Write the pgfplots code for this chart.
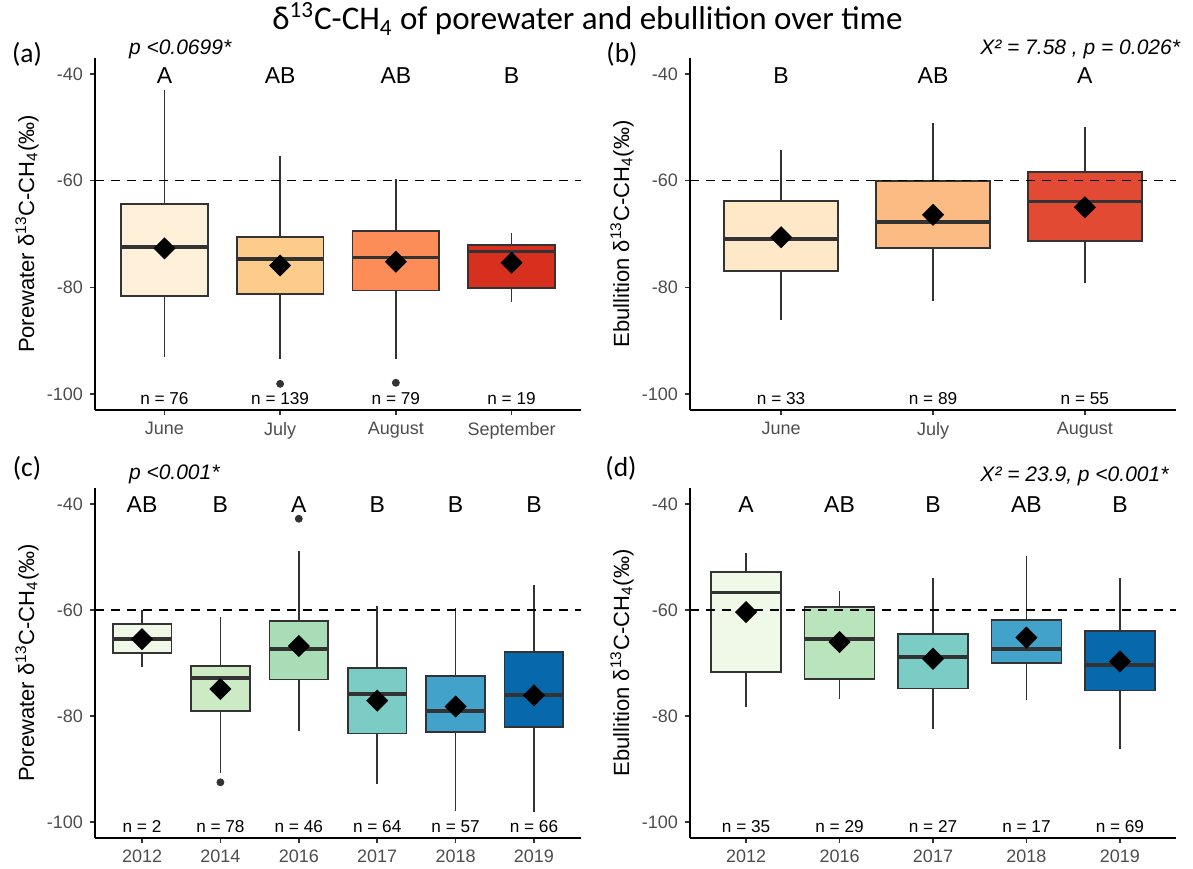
\documentclass[border=0pt]{standalone}
\usepackage{fontspec}
\setmainfont{Liberation Sans}
\newfontfamily\calibri{Carlito}
\usepackage{pgfplots}
\pgfplotsset{compat=1.18}
\usepgfplotslibrary{statistics}

\definecolor{gray20}{HTML}{333333}
\definecolor{gray30}{HTML}{4D4D4D}
% OrRd
\definecolor{oa1}{HTML}{FEF0D9}
\definecolor{oa2}{HTML}{FDCC8A}
\definecolor{oa3}{HTML}{FC8D59}
\definecolor{oa4}{HTML}{D7301F}
\definecolor{ob1}{HTML}{FEE8C8}
\definecolor{ob2}{HTML}{FDBB84}
\definecolor{ob3}{HTML}{E34A33}
% GnBu
\definecolor{gc1}{HTML}{F0F9E8}
\definecolor{gc2}{HTML}{CCEBC5}
\definecolor{gc3}{HTML}{A8DDB5}
\definecolor{gc4}{HTML}{7BCCC4}
\definecolor{gc5}{HTML}{43A2CA}
\definecolor{gc6}{HTML}{0868AC}
\definecolor{gd2}{HTML}{BAE4BC}

\newcommand{\fs}[1]{\fontsize{#1bp}{#1bp}\selectfont}
% box: position, lower whisker, lower quartile, median, upper quartile, upper whisker, fill
\newcommand{\bx}[7]{\addplot[boxplot prepared={draw position=#1, lower whisker=#2,
  lower quartile=#3, median=#4, upper quartile=#5, upper whisker=#6},
  draw=gray20, fill=#7, line width=0.9bp] coordinates {};}
% group letter and sample size
\newcommand{\lab}[3]{%
  \node[anchor=base, font=\fs{11.5}] at (axis cs:#1,-41.7) {#2};
  \node[anchor=base, font=\fs{8.6}] at (axis cs:#1,-101.9) {n = #3};}

\pgfplotsset{
  panel/.style={
    scale only axis, width=243bp,
    axis x line*=bottom, axis y line*=left,
    axis line style={-, line width=1bp, black},
    ymin=-103, ymax=-37,
    ytick={-100,-80,-60,-40}, yticklabels={-100,-80,-60,-40},
    tick align=outside, major tick length=2.5bp,
    tick style={line width=0.8bp, gray20},
    ticklabel style={font=\fs{9}, text=gray30},
    clip=false,
    every axis y label/.style={at={(axis description cs:0,0.5)}, xshift=-34bp,
      rotate=90, anchor=center, font=\fs{11}},
    boxplot/draw direction=y,
    boxplot/box extend=0.75,
    boxplot/whisker extend=0,
    boxplot/every median/.style={line width=1.9bp},
    boxplot/every whisker/.style={line width=0.7bp},
  },
  hline/.style={black, dash pattern=on 4.5bp off 3.5bp, line width=0.8bp},
  means/.style={only marks, mark=square*, mark size=3.7bp,
    mark options={rotate=45, fill=black, draw=black}},
  outl/.style={only marks, mark=*, mark size=1.75bp, mark options={fill=gray20, draw=gray20}},
}

\begin{document}
\begin{tikzpicture}
\path[use as bounding box] (0,0) rectangle (596.5bp,434.5bp);

% title and panel labels
\node[anchor=base, font=\calibri\fs{16.5}] at (293.75bp,419.5bp)
  {δ\textsuperscript{13}C-CH\textsubscript{4} of porewater and ebullition over time};
\node[anchor=base, font=\calibri\fs{13.75}] at (13.5bp,403bp) {(a)};
\node[anchor=base, font=\calibri\fs{13.75}] at (311bp,403bp) {(b)};
\node[anchor=base, font=\calibri\fs{13.75}] at (13.5bp,196bp) {(c)};
\node[anchor=base, font=\calibri\fs{13.75}] at (310.5bp,196bp) {(d)};

% (a) porewater by month
\begin{axis}[panel, at={(47.5bp,405.5bp)}, anchor=north west, height=176bp,
  xmin=0.4, xmax=4.6, xtick={1,2,3,4}, xticklabels={June,July,August,September},
  ylabel={Porewater δ\textsuperscript{13}C-CH\textsubscript{4}(‰)}]
\bx{1}{-93}{-81.6}{-72.4}{-64.4}{-43}{oa1}
\bx{2}{-93.5}{-81.3}{-74.75}{-70.5}{-55.4}{oa2}
\bx{3}{-93.5}{-80.6}{-74.4}{-69.4}{-59.75}{oa3}
\bx{4}{-82.7}{-80.2}{-73.3}{-72.0}{-69.75}{oa4}
\addplot[outl] coordinates {(2,-98.1) (3,-97.9)};
\addplot[hline] coordinates {(0.4,-60) (4.6,-60)};
\addplot[means] coordinates {(1,-72.7) (2,-75.9) (3,-75.2) (4,-75.4)};
\lab{1}{A}{76}\lab{2}{AB}{139}\lab{3}{AB}{79}\lab{4}{B}{19}
\end{axis}
\node[anchor=base west, font=\itshape\fs{10.5}] at (61bp,407bp) {p <0.0699*};

% (b) ebullition by month
\begin{axis}[panel, at={(345bp,405.5bp)}, anchor=north west, height=176bp,
  xmin=0.4, xmax=3.6, xtick={1,2,3}, xticklabels={June,July,August},
  ylabel={Ebullition δ\textsuperscript{13}C-CH\textsubscript{4}(‰)}]
\bx{1}{-86.1}{-76.9}{-70.9}{-63.8}{-54.2}{ob1}
\bx{2}{-82.5}{-72.6}{-67.8}{-60.0}{-49.25}{ob2}
\bx{3}{-79.1}{-71.25}{-63.9}{-58.4}{-49.9}{ob3}
\addplot[hline] coordinates {(0.4,-60) (3.6,-60)};
\addplot[means] coordinates {(1,-70.6) (2,-66.4) (3,-65.0)};
\lab{1}{B}{33}\lab{2}{AB}{89}\lab{3}{A}{55}
\end{axis}
\node[anchor=base east, font=\itshape\fs{10.5}] at (593.5bp,407bp) {X² = 7.58 , p = 0.026*};

% (c) porewater by year
\begin{axis}[panel, at={(47.5bp,190.5bp)}, anchor=north west, height=175bp,
  xmin=0.4, xmax=6.6, xtick={1,2,3,4,5,6},
  xticklabels={2012,2014,2016,2017,2018,2019},
  ylabel={Porewater δ\textsuperscript{13}C-CH\textsubscript{4}(‰)}]
\bx{1}{-70.7}{-68.05}{-65.4}{-62.7}{-60.0}{gc1}
\bx{2}{-90.7}{-79.1}{-72.9}{-70.6}{-61.3}{gc2}
\bx{3}{-82.9}{-73.1}{-67.3}{-62.1}{-48.8}{gc3}
\bx{4}{-92.9}{-83.3}{-75.9}{-71.0}{-59.3}{gc4}
\bx{5}{-97.9}{-83.0}{-79.1}{-72.4}{-59.6}{gc5}
\bx{6}{-98.1}{-82.0}{-76.1}{-67.9}{-55.3}{gc6}
\addplot[outl] coordinates {(2,-92.5) (3,-42.8)};
\addplot[hline] coordinates {(0.4,-60) (6.6,-60)};
\addplot[means] coordinates {(1,-65.5) (2,-74.9) (3,-66.8) (4,-77.1) (5,-78.2) (6,-76.1)};
\lab{1}{AB}{2}\lab{2}{B}{78}\lab{3}{A}{46}\lab{4}{B}{64}\lab{5}{B}{57}\lab{6}{B}{66}
\end{axis}
\node[anchor=base west, font=\itshape\fs{10.5}] at (61bp,194.5bp) {p <0.001*};

% (d) ebullition by year
\begin{axis}[panel, at={(345bp,190.5bp)}, anchor=north west, height=175bp,
  xmin=0.4, xmax=5.6, xtick={1,2,3,4,5},
  xticklabels={2012,2016,2017,2018,2019},
  ylabel={Ebullition δ\textsuperscript{13}C-CH\textsubscript{4}(‰)}]
\bx{1}{-78.3}{-71.7}{-56.7}{-52.8}{-49.3}{gc1}
\bx{2}{-76.8}{-73.0}{-65.5}{-59.4}{-56.4}{gd2}
\bx{3}{-82.5}{-74.8}{-68.8}{-64.5}{-53.9}{gc4}
\bx{4}{-76.9}{-70.0}{-67.4}{-61.9}{-49.8}{gc5}
\bx{5}{-86.2}{-75.2}{-70.4}{-63.9}{-54.0}{gc6}
\addplot[hline] coordinates {(0.4,-60) (5.6,-60)};
\addplot[means] coordinates {(1,-60.4) (2,-66.05) (3,-69.2) (4,-65.2) (5,-69.7)};
\lab{1}{A}{35}\lab{2}{AB}{29}\lab{3}{B}{27}\lab{4}{AB}{17}\lab{5}{B}{69}
\end{axis}
\node[anchor=base east, font=\itshape\fs{10.5}] at (587.75bp,193.7bp) {X² = 23.9, p <0.001*};
\end{tikzpicture}
\end{document}
